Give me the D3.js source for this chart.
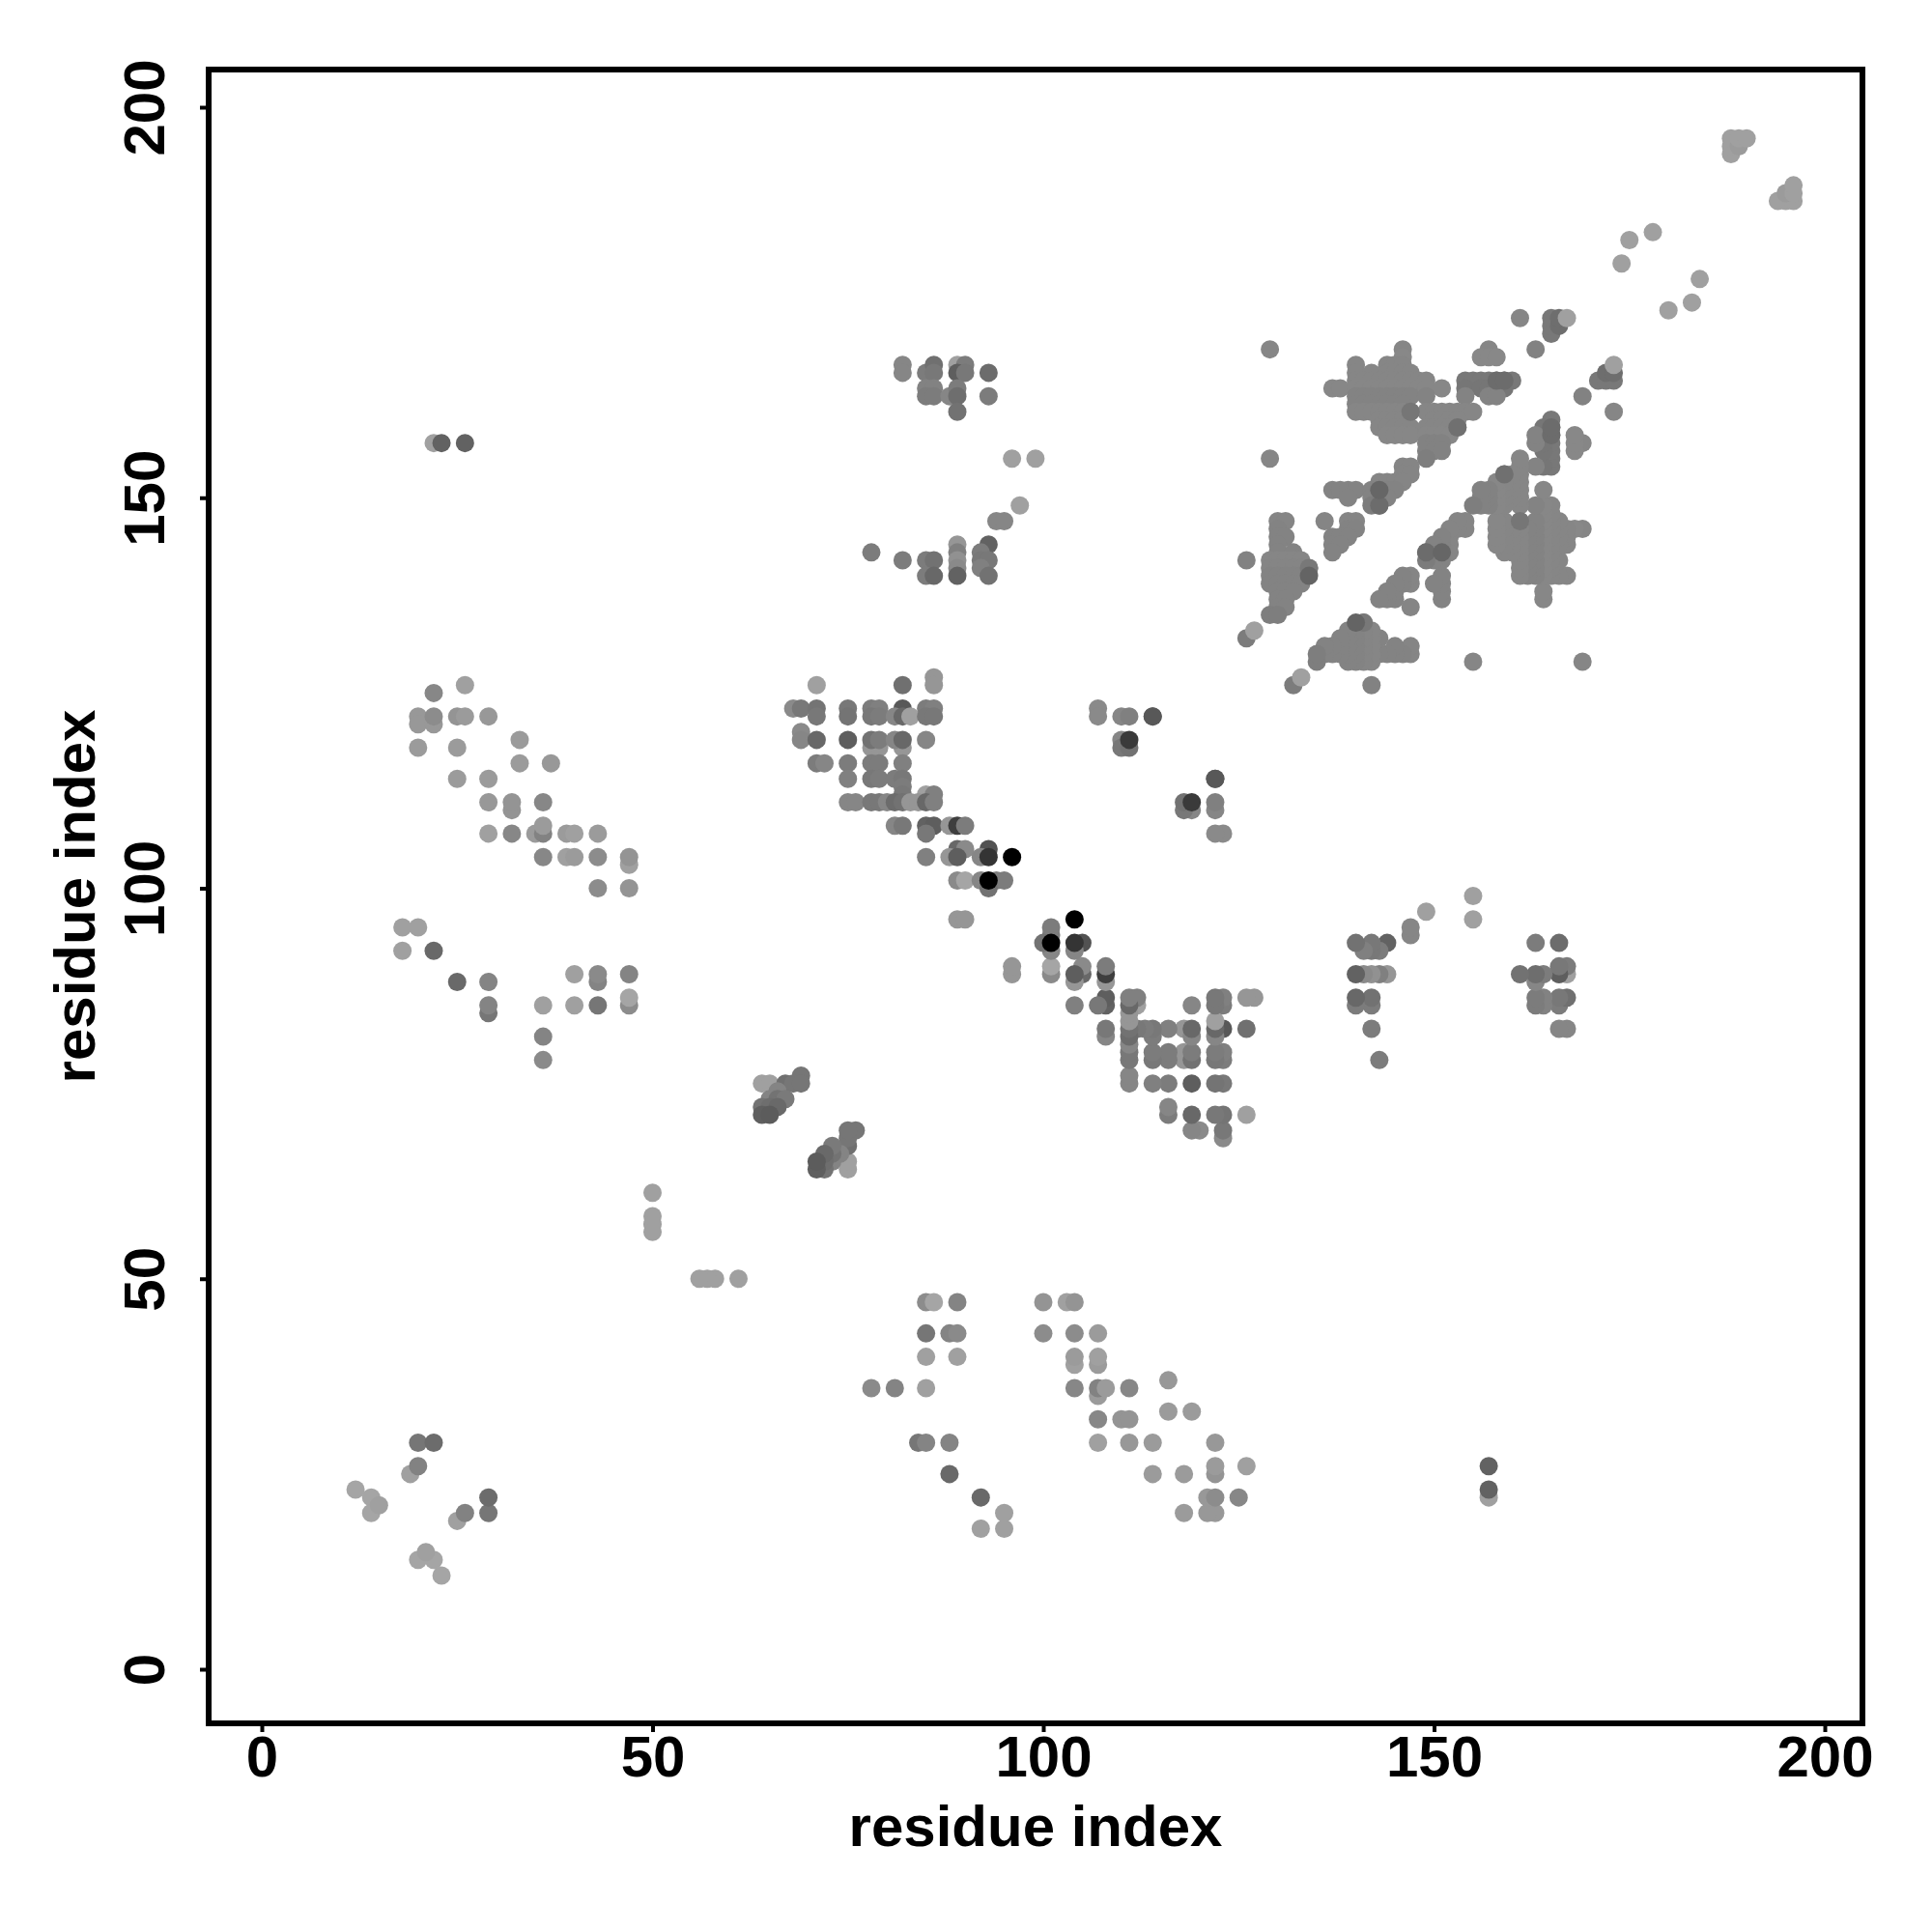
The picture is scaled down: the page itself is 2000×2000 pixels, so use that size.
<!DOCTYPE html>
<html><head><meta charset="utf-8">
<script src="https://cdn.jsdelivr.net/npm/d3@7"></script>
<style>html,body{margin:0;background:#fff}svg{display:block}text{font-family:"Liberation Sans",Arial,sans-serif;font-weight:bold;fill:#000}</style>
</head><body><svg id="c" width="2000" height="2000"></svg>
<script>
const tickValuesList = [0, 50, 100, 150, 200];
const axisTitle = "residue index";

// Each contact: [residue i, residue j, grey level]; the map is symmetric, only i < j is listed.
const nTerminalContacts = [
  [12,23,165],[14,22,165],[14,20,165],[15,21,160],[19,25,160],[20,26,130],[20,29,118],[22,29,108],
  [22,157,160],[23,157,98],[26,157,98],[50,61,160],[50,58,160],[50,57,160],[50,56,160]
];
const helixContacts = [
  [22,125,135],[26,126,160],[20,122,152],[20,121,152],[22,121,152],[22,122,140],[25,122,148],[26,122,155],[29,122,152],
  [20,118,155],[25,118,155],[33,119,155],[33,116,155],[37,116,152],[25,114,155],[29,114,155],[29,111,152],[32,110,148],[32,111,148],[36,111,135],
  [29,107,160],[32,107,135],[35,107,155],[36,107,130],[36,108,155],[39,107,155],[40,107,160],[43,107,155],
  [36,104,135],[39,104,160],[40,104,155],[43,104,140],[47,103,160],[47,104,148],[43,100,140],[47,100,148],
  [18,95,160],[20,95,160],[18,92,160],[22,92,105],[25,88,105],[29,88,132],[29,84,118],[29,85,132],[36,85,160],[36,81,132],[36,78,138],
  [40,89,160],[43,88,132],[43,89,138],[47,89,132],[40,85,160],[43,85,118],[47,85,140],[47,86,165]
];
const loopContacts = [
  [64,75,160],[65,75,160],[69,76,118],[67,75,112],[68,75,118],[69,75,118],[66,74,132],[65,73,132],[66,73,115],[67,73,122],
  [64,72,115],[65,72,110],[66,72,105],[64,71,95],[65,71,92]
];
const coreContacts = [
  [71,126,160],[82,126,112],[86,127,150],[86,126,150],
  [68,123,138],[69,123,120],[71,123,116],[75,123,120],[78,123,124],[79,123,128],[82,123,88],[85,123,124],[86,123,128],
  [71,122,120],[75,122,116],[78,122,120],[79,122,124],[81,122,134],[82,122,104],[83,122,160],[85,122,120],[86,122,120],
  [69,120,138],[69,119,134],[71,119,104],[75,119,94],[78,118,150],[79,118,150],[82,118,150],[78,119,114],[79,119,124],[81,119,134],[82,119,104],[85,119,134],
  [71,116,124],[72,116,134],[75,116,124],[78,116,124],[79,116,124],[82,116,128],
  [75,114,128],[78,114,120],[79,114,124],[81,114,124],[82,114,120],[82,113,124],[82,112,120],[85,112,160],[86,112,128],
  [75,111,134],[76,111,134],[78,111,120],[79,111,120],[80,111,134],[81,111,108],[82,111,114],[83,111,150],[84,111,150],[85,111,104],[86,111,128],
  [81,108,134],[82,108,120],[85,108,98],[86,108,94],[88,108,150],[89,108,62],[90,108,124],[85,107,120],
  [89,105,104],[90,105,138],[93,105,82],[85,104,128],[88,104,150],[89,104,94],[92,104,134],[93,104,52],[96,104,0],
  [89,101,138],[90,101,165],[92,101,134],[94,101,124],[95,101,124],[93,100,114],[93,101,0],[89,96,150],[90,96,150],
  [107,123,138],[107,122,138],[110,122,134],[111,122,128],[114,122,88],[110,119,134],[110,118,120],[111,118,114],[111,119,58],
  [114,122,88]
];
const bridgeContacts = [
  [82,167,134],[82,166,134],[85,166,124],[86,167,112],[86,166,120],[85,164,130],[86,164,130],[85,163,124],[86,163,124],
  [89,167,160],[90,167,124],[89,166,94],[90,166,120],[93,166,108],[88,163,134],[89,164,124],[89,163,110],[89,161,114],[93,163,124],
  [96,155,160],[99,155,160],[97,149,160],[94,147,134],[95,147,134],
  [93,144,98],[92,143,124],[89,144,150],[89,143,128],[89,142,145],[89,141,138],[89,140,98],
  [78,143,124],[82,142,124],[85,142,124],[86,142,114],[85,140,124],[86,140,104],[92,142,120],[93,142,120],[92,141,128],[93,140,114]
];
const cTerminalContacts = [
  [126,142,130],[126,132,124],[127,133,160],[129,155,134],[129,169,134],[163,169,130],[161,173,134],
  [165,171,120],[165,172,120],[165,173,120],[166,172,110],[166,173,110],[167,173,160],
  [174,180,160],[175,183,160],[178,184,160],
  [188,194,160],[188,195,160],[188,196,160],[189,195,155],[189,196,160],[190,196,160]
];
// Dense region: [residue j, [residues i], grey level]
const denseRows = [
  [169,[146,157],134],[168,[146,156,157,158],136],[167,[140,144,145,146],134],[166,[140,142,144,145,146,147],134],
  [165,[140,141,142,143,144,145,146,147,148,149],134],[165,[154,155,156,157,158,159,160],120],
  [164,[137,138,140,141,142,143,144,145,146,147,148,149,151],135],[164,[154,156,157,158,159],118],
  [163,[140,141,142,143,144,145,146,147,149,154,157,158],131],
  [162,[140,141,142,143,144,145,146],131],
  [161,[140,141,142,143,144,145,146,147,149,150,151,152,153,154,155],134],
  [160,[143,144,145,146,150,151,152,153],134],[159,[143,144,145,146,147,149,150,151,152,153],134],
  [158,[144,145,146,147,149,150,151,152],135],[157,[149,150,151],130],[156,[149,150,151],130],[155,[149],126],
  [154,[146,147],133],[153,[146,147],133],[152,[143,144,145,146],133],[151,[137,138,139,140,142,143,144,145],131],
  [150,[139,142,143,144],131],[149,[142,143],124],
  [147,[130,131,136,139,140],133],[146,[130,139,140],131],[145,[130,131,137,138,139],131],[144,[130,137,138],131],[143,[130,132,137],131],
  [142,[129,130,131,132,133],134],[141,[129,130,131,132,133,134],133],[140,[129,130,131,132,133],131],[139,[129,130,131,132,133],131],
  [138,[130,131,132],131],[137,[130,131],131],[136,[130,131],131],[135,[129,130],126]
];
const denseAccents = [[134,141,120],[134,140,100],[153,159,112],[147,161,118],[143,149,108],[143,151,102],[158,165,108],[159,165,108]];

const x = d3.scaleLinear().domain([0,200]).range([271,1889]);
const y = d3.scaleLinear().domain([0,200]).range([1728,111]);
const svg = d3.select("#c");
const frame = {l:216,t:72,r:1928,b:1784};

const upper = [...nTerminalContacts, ...helixContacts, ...loopContacts, ...coreContacts, ...bridgeContacts, ...cTerminalContacts,
  ...denseRows.flatMap(([j,is,g]) => is.map(i => [i,j,g])), ...denseAccents];
const all = [...upper, ...upper.map(([i,j,g]) => [j,i,g])];

svg.append("g").selectAll("circle").data(all).join("circle")
  .attr("cx", d => x(d[0])).attr("cy", d => y(d[1])).attr("r", 9.5)
  .attr("fill", d => `rgb(${d[2]},${d[2]},${d[2]})`);

svg.append("rect").attr("x",frame.l).attr("y",frame.t).attr("width",frame.r-frame.l).attr("height",frame.b-frame.t)
  .attr("fill","none").attr("stroke","#000").attr("stroke-width",6);

const gx = svg.append("g").attr("transform",`translate(0,${frame.b})`)
  .call(d3.axisBottom(x).tickValues(tickValuesList).tickSize(9).tickSizeOuter(0));
const gy = svg.append("g").attr("transform",`translate(${frame.l},0)`)
  .call(d3.axisLeft(y).tickValues(tickValuesList).tickSize(9).tickSizeOuter(0));
[gx,gy].forEach(g => {
  g.select(".domain").remove();
  g.selectAll("line").attr("stroke","#000").attr("stroke-width",4);
  g.selectAll("text").attr("font-size",60).attr("font-family",null).style("font-family",'"Liberation Sans"').style("font-weight","bold");
});
gx.selectAll("text").attr("y",55).attr("dy",0).attr("text-anchor","middle");
gy.selectAll("text").attr("x",null).attr("dy",0).attr("text-anchor","middle")
  .attr("transform","translate(-46,0) rotate(-90)").attr("y",0);

svg.append("text").attr("x",(frame.l+frame.r)/2).attr("y",1911).attr("text-anchor","middle").attr("font-size",60).text(axisTitle);
svg.append("text").attr("transform",`translate(98,${(frame.t+frame.b)/2}) rotate(-90)`).attr("text-anchor","middle").attr("font-size",60).text(axisTitle);
</script></body></html>
